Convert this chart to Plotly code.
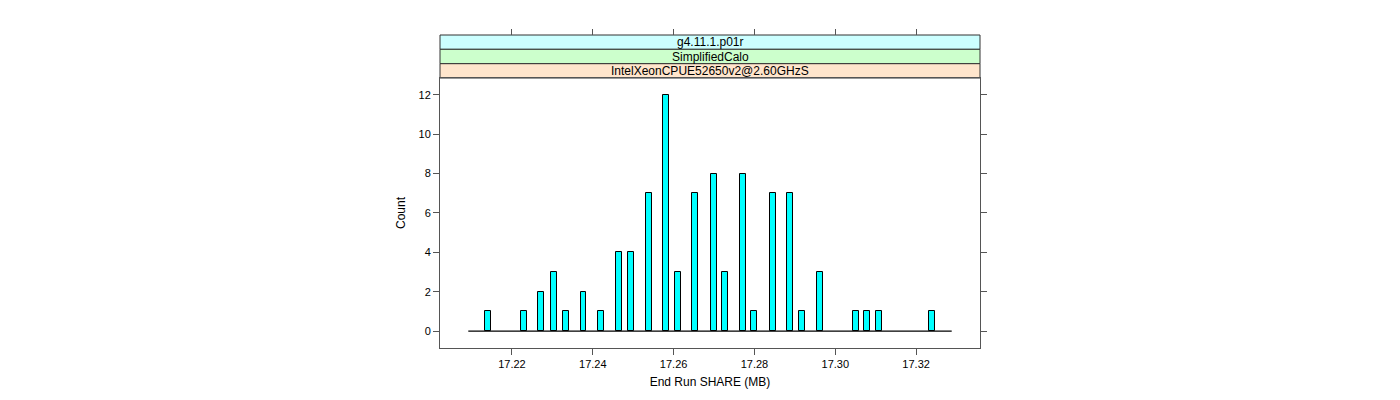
import plotly.graph_objects as go

# Data
share_mb = [17.2141, 17.2230, 17.2273, 17.2303, 17.2333, 17.2377, 17.2420,
            17.2464, 17.2494, 17.2538, 17.2581, 17.2611, 17.2654, 17.2699,
            17.2728, 17.2772, 17.2800, 17.2845, 17.2889, 17.2918, 17.2962,
            17.3050, 17.3079, 17.3108, 17.3240]
counts = [1, 1, 2, 3, 1, 2, 1, 4, 4, 7, 12, 3, 7, 8, 3, 8, 1, 7, 7, 1, 3,
          1, 1, 1, 1]
baseline_x = [17.2092, 17.3288]
baseline_y = [0, 0]
bin_width = 0.00148
x_ticks = [17.22, 17.24, 17.26, 17.28, 17.30, 17.32]
x_tick_labels = ["17.22", "17.24", "17.26", "17.28", "17.30", "17.32"]
y_ticks = [0, 2, 4, 6, 8, 10, 12]
strip_labels = ["g4.11.1.p01r", "SimplifiedCalo", "IntelXeonCPUE52650v2@2.60GHzS"]
strip_colors = ["#CCFFFF", "#CCFFCC", "#FFE5CC"]

x_range = [17.2022, 17.3358]
y_range = [-0.86, 12.85]

# page body has an 8px margin
W, H = 1384, 384
m_l, m_r, m_t, m_b = 432, 412, 27, 44
paper_h = H - m_t - m_b
panel_top = (340 - 70) / paper_h
strip_bounds = [1.0, (340 - 41.3) / paper_h, (340 - 55.7) / paper_h, panel_top]

frame_col = "#555555"
font_fam = "Liberation Sans, Arial, Helvetica, sans-serif"

fig = go.Figure()
fig.add_trace(go.Scatter(x=baseline_x, y=baseline_y, mode="lines",
                         line=dict(color="black", width=1.2),
                         hoverinfo="skip", showlegend=False))
fig.add_trace(go.Bar(x=share_mb, y=counts, width=bin_width,
                     marker=dict(color="#00FFFF",
                                 line=dict(color="black", width=1)),
                     showlegend=False))
# invisible trace to activate top axis
fig.add_trace(go.Scatter(x=[x_range[0]], y=[0], xaxis="x2", mode="markers",
                         marker=dict(opacity=0), showlegend=False,
                         hoverinfo="skip"))

shapes = []
annotations = []
for i, (lab, col) in enumerate(zip(strip_labels, strip_colors)):
    y1 = strip_bounds[i]
    y0 = strip_bounds[i + 1]
    shapes.append(dict(type="rect", xref="paper", yref="paper",
                       x0=0, x1=1, y0=y0, y1=y1, fillcolor=col,
                       line=dict(color="#333333", width=1), layer="below"))
    annotations.append(dict(text=lab, xref="paper", yref="paper",
                            x=0.5, y=(y0 + y1) / 2, showarrow=False,
                            xanchor="center", yanchor="middle",
                            font=dict(size=12, color="black", family=font_fam)))

fig.update_layout(
    width=W, height=H,
    margin=dict(l=m_l, r=m_r, t=m_t, b=m_b, autoexpand=False),
    paper_bgcolor="white", plot_bgcolor="white",
    bargap=0,
    font=dict(family=font_fam, size=11, color="black"),
    shapes=shapes, annotations=annotations,
    xaxis=dict(range=x_range, tickvals=x_ticks, ticktext=x_tick_labels,
               ticks="outside", ticklen=6, tickcolor=frame_col,
               showline=True, linecolor=frame_col, linewidth=1, mirror=True,
               showgrid=False, zeroline=False, automargin=False,
               title=dict(text="End Run SHARE (MB)", standoff=8,
                          font=dict(size=12)),
               tickfont=dict(size=11)),
    xaxis2=dict(range=x_range, tickvals=x_ticks, showticklabels=False,
                overlaying="x", side="top", anchor="free", position=1,
                ticks="outside", ticklen=6, tickcolor=frame_col,
                showline=False, showgrid=False, zeroline=False,
                automargin=False),
    yaxis=dict(range=y_range, domain=[0, panel_top], tickvals=y_ticks,
               ticks="outside", ticklen=6, tickcolor=frame_col,
               showline=True, linecolor=frame_col, linewidth=1,
               mirror="ticks", automargin=False,
               showgrid=False, zeroline=False,
               title=dict(text="Count", standoff=10, font=dict(size=12)),
               tickfont=dict(size=11)),
)

fig.write_html("out.html")
